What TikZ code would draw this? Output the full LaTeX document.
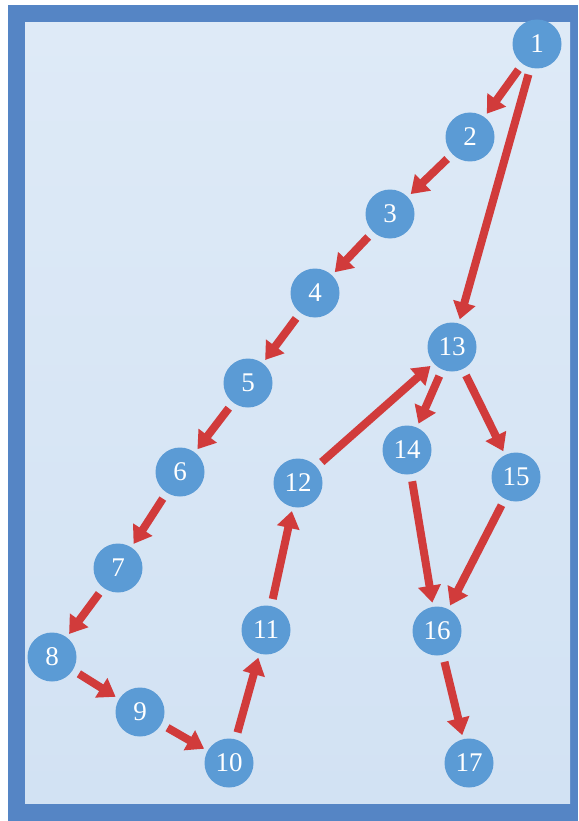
\documentclass[tikz,border=0pt]{standalone}
\usepackage{fontspec}
\setmainfont{Liberation Serif}
\usetikzlibrary{arrows.meta}
\definecolor{framecol}{HTML}{5585C5}
\definecolor{nodecol}{HTML}{5B9BD5}
\definecolor{arrowcol}{HTML}{D13B3B}
\definecolor{bgtop}{HTML}{DEEAF7}
\definecolor{bgbot}{HTML}{D2E2F3}
\tikzset{
  vtx/.style={circle, fill=nodecol, minimum size=49pt, inner sep=0pt, text=white, font=\fontsize{27}{27}\selectfont},
  arr/.style={draw=arrowcol, line width=8pt, -{Triangle[width=22pt,length=17pt]}, shorten <=7pt, shorten >=4pt}
}
\begin{document}
\begin{tikzpicture}[x=1pt,y=-1pt]
\useasboundingbox (0,0) rectangle (578,821);
\fill[white] (0,0) rectangle (578,821);
\fill[framecol] (8,5) rectangle (578,821);
\shade[top color=bgtop, bottom color=bgbot] (25,23) rectangle (570,803);
\node[vtx] (n1) at (537,44) {1};
\node[vtx] (n2) at (470,137) {2};
\node[vtx] (n3) at (390,214) {3};
\node[vtx] (n4) at (315,293) {4};
\node[vtx] (n5) at (248,383) {5};
\node[vtx] (n6) at (180,472) {6};
\node[vtx] (n7) at (118,568) {7};
\node[vtx] (n8) at (52,657) {8};
\node[vtx] (n9) at (140,712) {9};
\node[vtx] (n10) at (229,763) {10};
\node[vtx] (n11) at (266,630) {11};
\node[vtx] (n12) at (298,483) {12};
\node[vtx] (n13) at (452,347) {13};
\node[vtx] (n14) at (407,450) {14};
\node[vtx] (n15) at (516,477) {15};
\node[vtx] (n16) at (437,631) {16};
\node[vtx] (n17) at (469,763) {17};
\draw[arr] (n1) -- (n2);
\draw[arr] (n2) -- (n3);
\draw[arr] (n3) -- (n4);
\draw[arr] (n4) -- (n5);
\draw[arr] (n5) -- (n6);
\draw[arr] (n6) -- (n7);
\draw[arr] (n7) -- (n8);
\draw[arr] (n8) -- (n9);
\draw[arr] (n9) -- (n10);
\draw[arr] (n10) -- (n11);
\draw[arr] (n11) -- (n12);
\draw[arr] (n12) -- (n13);
\draw[arr] (n1) -- (n13);
\draw[arr] (n13) -- (n14);
\draw[arr] (n13) -- (n15);
\draw[arr] (n14) -- (n16);
\draw[arr] (n15) -- (n16);
\draw[arr] (n16) -- (n17);
\end{tikzpicture}
\end{document}
